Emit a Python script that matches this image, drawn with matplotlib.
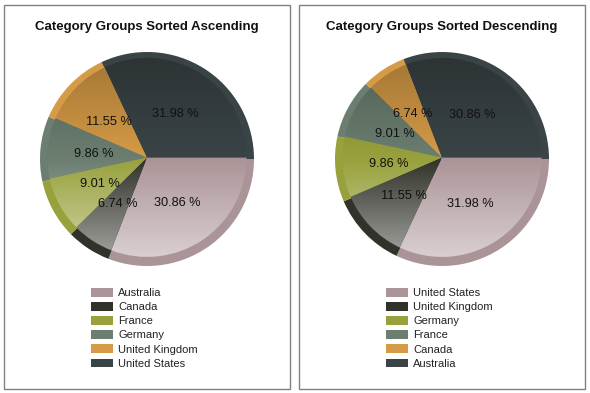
import matplotlib.pyplot as plt
import numpy as np
from matplotlib.patches import Rectangle
from matplotlib.colors import to_rgb

plt.rcParams['font.family'] = ['Liberation Sans', 'DejaVu Sans']

# left chart (ascending by category name)
asc_labels = ["Australia", "Canada", "France", "Germany", "United Kingdom", "United States"]
asc_values = [30.86, 6.74, 9.01, 9.86, 11.55, 31.98]

# right chart (descending by category name)
desc_labels = ["United States", "United Kingdom", "Germany", "France", "Canada", "Australia"]
desc_values = [31.98, 11.55, 9.86, 9.01, 6.74, 30.86]

colors = ["#ab9497", "#31332a", "#98a13c", "#6b7e70", "#d69b46", "#3a4446"]

titles = ["Category Groups Sorted Ascending", "Category Groups Sorted Descending"]

W, H = 590, 393
fig = plt.figure(figsize=(W / 100, H / 100), dpi=100)
fig.patch.set_facecolor("white")


def gradient_image(base):
    # vertical shading: darker at top, lighter at bottom
    base = np.array(to_rgb(base))
    t = np.linspace(-1, 1, 200)[:, None]
    dark = base * 0.75
    light = base + (1 - base) * 0.6
    img = np.where(t < 0, base + (base - dark) * t, base + (light - base) * t)
    img = np.repeat(img[:, None, :], 2, axis=1)
    return np.clip(img, 0, 1)


def draw_panel(offset, title, labels, values):
    # frame
    fig.patches.append(Rectangle(((4 + offset) / W, 4 / H), 286 / W, 384 / H,
                                 transform=fig.transFigure, fill=False,
                                 edgecolor="#808080", linewidth=1.0))
    fig.text((147 + offset) / W, 1 - 27 / H, title, ha="center", va="center",
             fontsize=9.5, fontweight="bold", color="#111111")

    ax = fig.add_axes([(40 + offset) / W, (H - 266) / H, 214 / W, 214 / H])
    # outer rim + percentage labels
    rim, texts = ax.pie(values, colors=colors, startangle=0, counterclock=False,
                        radius=1.0, wedgeprops=dict(linewidth=0),
                        labels=["%.2f %%" % v for v in values],
                        labeldistance=0.5,
                        textprops=dict(fontsize=9.2, color="#111111"))
    for t in texts:
        t.set_ha("center")
        t.set_va("center")
        t.set_zorder(10)
    # inner shaded pie
    inner, _ = ax.pie(values, colors=colors, startangle=0, counterclock=False,
                      radius=0.93, center=(0, 0.015),
                      wedgeprops=dict(linewidth=0))
    for w, c in zip(inner, colors):
        im = ax.imshow(gradient_image(c), extent=[-1, 1, -1, 1], aspect="auto",
                       origin="upper", zorder=3)
        im.set_clip_path(w)
        w.set_visible(False)
    ax.set_xlim(-1, 1)
    ax.set_ylim(-1, 1)
    ax.set_aspect("equal")
    ax.axis("off")

    handles = [Rectangle((0, 0), 1, 1, facecolor=c, edgecolor="none") for c in colors]
    fig.legend(handles, labels, loc="upper left",
               bbox_to_anchor=((91 + offset) / W, 1 - 288 / H),
               frameon=False, fontsize=8, handlelength=2.0, handleheight=0.8,
               handletextpad=0.45, labelspacing=0.36, borderpad=0,
               borderaxespad=0, labelcolor="#222222")


draw_panel(0, titles[0], asc_labels, asc_values)
draw_panel(295, titles[1], desc_labels, desc_values)

fig.savefig("out.png", dpi=100)
